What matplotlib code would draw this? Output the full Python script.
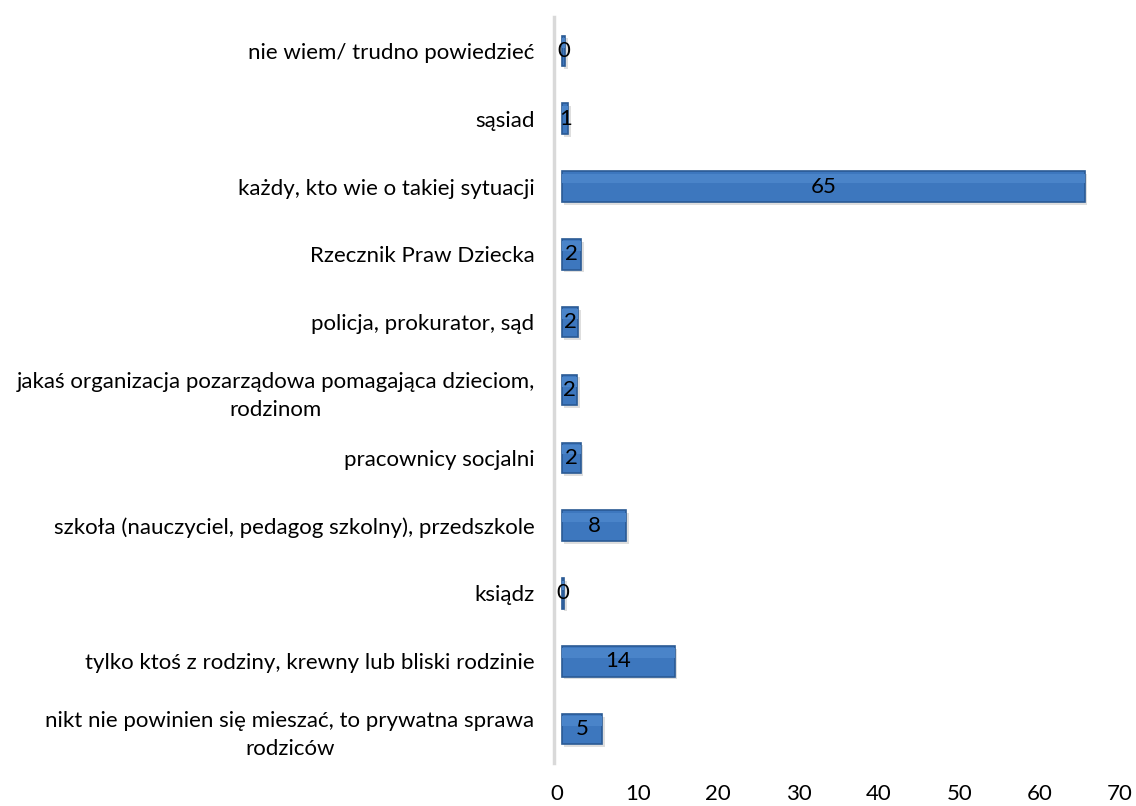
import matplotlib
matplotlib.use("Agg")
import matplotlib.pyplot as plt

categories = [
    "nie wiem/ trudno powiedzieć",
    "sąsiad",
    "każdy, kto wie o takiej sytuacji",
    "Rzecznik Praw Dziecka",
    "policja, prokurator, sąd",
    "jakaś organizacja pozarządowa pomagająca dzieciom,\nrodzinom",
    "pracownicy socjalni",
    "szkoła (nauczyciel, pedagog szkolny), przedszkole",
    "ksiądz",
    "tylko ktoś z rodziny, krewny lub bliski rodzinie",
    "nikt nie powinien się mieszać, to prywatna sprawa\nrodziców",
]
values = [0.4, 0.8, 65, 2.4, 2.0, 1.9, 2.3, 8, 0.3, 14, 5]
xticks = [0, 10, 20, 30, 40, 50, 60, 70]

plt.rcParams['font.family'] = ['Lato', 'DejaVu Sans']

W, H = 1136, 806
fig = plt.figure(figsize=(W / 100, H / 100), dpi=100)
ax = fig.add_axes([554 / W, 1 - 763 / H, (1120 - 554) / W, (763 - 17) / H])

n = len(categories)
ys = list(range(n))[::-1]
left0 = 0.6
# shadow
ax.barh([y - 0.04 for y in ys], values, left=left0 + 0.3, height=0.45, color='#BFBFBF',
        alpha=0.5, linewidth=0, zorder=1)
ax.barh(ys, values, left=left0, height=0.45, color='#3D77BE', edgecolor='#2A5A94',
        linewidth=1.2, zorder=2)
# subtle highlight on top
ax.barh([y + 0.12 for y in ys], values, left=left0, height=0.14, color='#4A84C9',
        linewidth=0, zorder=3)

for y, v in zip(ys, values):
    ax.text(left0 + v / 2, y, f"{v:.0f}", ha='center', va='center', fontsize=16,
            color='black', zorder=4)

ax.set_yticks(ys)
ax.set_yticklabels(categories, fontsize=16, ha='right', multialignment='center',
                   linespacing=1.5)
ax.set_xlim(-0.4, 70)
ax.set_ylim(-0.5, n - 0.5)
ax.set_xticks(xticks)
ax.set_xticklabels([str(t) for t in xticks], fontsize=16)
ax.tick_params(axis='both', length=0)
ax.tick_params(axis='y', pad=14)
ax.tick_params(axis='x', pad=15)
for s in ['top', 'right', 'bottom']:
    ax.spines[s].set_visible(False)
ax.spines['left'].set_color('#D9D9D9')
ax.spines['left'].set_linewidth(2.5)

fig.savefig("out.png", dpi=100)
